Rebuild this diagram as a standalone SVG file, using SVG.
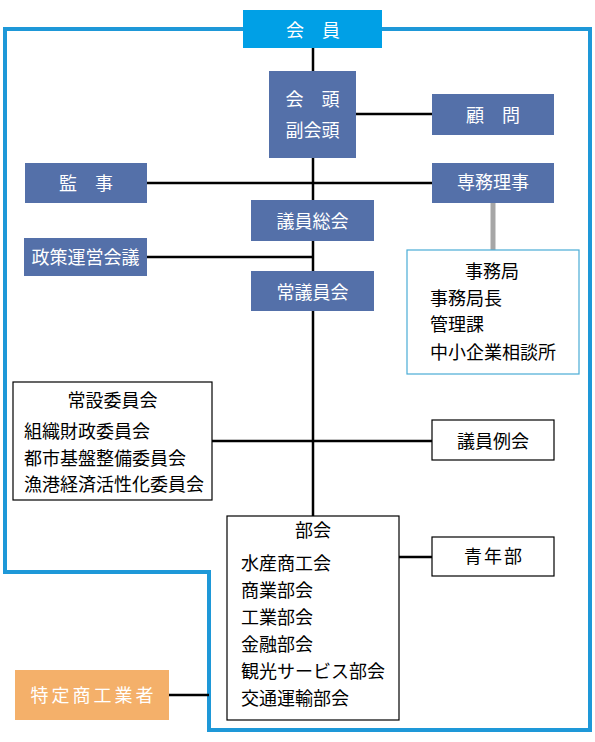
<svg xmlns="http://www.w3.org/2000/svg" width="595" height="742" viewBox="0 0 595 742">
<style>
text{font-family:"Noto Sans CJK JP","Noto Sans",sans-serif;font-size:18px}
.w{fill:#fff}
.k{fill:#000}
.c{text-anchor:middle}
.blue{fill:#5470A9}
.wb{fill:#fff;stroke:#000;stroke-width:1.2}
.ln{stroke:#000;stroke-width:2.5;fill:none}
</style>
<rect width="595" height="742" fill="#fff"/>
<g id="outline">
<polygon points="5,29 590,29 590,730 209,730 209,572 5,572" fill="none" stroke="#1E98D8" stroke-width="4"/>
</g>
<g id="connectors">
<line class="ln" x1="313" y1="48" x2="313" y2="516"/>
<line class="ln" x1="356" y1="114" x2="432" y2="114"/>
<line class="ln" x1="147" y1="183" x2="432" y2="183"/>
<line class="ln" x1="147" y1="257" x2="313" y2="257"/>
<line class="ln" x1="212" y1="441" x2="432" y2="441"/>
<line class="ln" x1="399" y1="557" x2="432" y2="557"/>
<line class="ln" x1="169" y1="695" x2="209" y2="695"/>
<line x1="493" y1="203" x2="493" y2="250" stroke="#A6A6A6" stroke-width="5"/>
</g>
<g id="kaiin">
<rect x="243" y="10" width="139" height="38" fill="#00A0E6"/>
<text class="w c" x="313" y="36.5">会　員</text>
</g>
<g id="kaito">
<rect class="blue" x="269" y="71" width="87" height="87"/>
<text class="w c" x="312.5" y="106">会　頭</text>
<text class="w c" x="312.5" y="137">副会頭</text>
</g>
<g id="komon">
<rect class="blue" x="432" y="94" width="122" height="41"/>
<text class="w c" x="493" y="121.5">顧　問</text>
</g>
<g id="kanji">
<rect class="blue" x="25" y="163" width="122" height="40"/>
<text class="w c" x="86" y="190">監　事</text>
</g>
<g id="senmu">
<rect class="blue" x="432" y="163" width="122" height="40"/>
<text class="w c" x="493" y="189">専務理事</text>
</g>
<g id="giinsokai">
<rect class="blue" x="251" y="200" width="123" height="41"/>
<text class="w c" x="312.5" y="227.5">議員総会</text>
</g>
<g id="seisaku">
<rect class="blue" x="24" y="238" width="123" height="38"/>
<text class="w c" x="85.5" y="263.5">政策運営会議</text>
</g>
<g id="jogiinkai">
<rect class="blue" x="251" y="271" width="123" height="40"/>
<text class="w c" x="312.5" y="298.5">常議員会</text>
</g>
<g id="jimukyoku">
<rect x="407" y="250" width="172" height="124" fill="#fff" stroke="#4AACD6" stroke-width="1.2"/>
<text class="k c" x="492" y="277.5">事務局</text>
<text class="k" x="430" y="304.5">事務局長</text>
<text class="k" x="430" y="331">管理課</text>
<text class="k" x="430" y="358.5">中小企業相談所</text>
</g>
<g id="josetsu">
<rect class="wb" x="13" y="382" width="199" height="118"/>
<text class="k c" x="112.5" y="406.5">常設委員会</text>
<text class="k" x="24" y="438">組織財政委員会</text>
<text class="k" x="24" y="465">都市基盤整備委員会</text>
<text class="k" x="24" y="491">漁港経済活性化委員会</text>
</g>
<g id="giinreikai">
<rect class="wb" x="432" y="420" width="122" height="40"/>
<text class="k c" x="493" y="447.5">議員例会</text>
</g>
<g id="bukai">
<rect class="wb" x="227" y="516" width="172" height="204"/>
<text class="k c" x="313" y="536.5">部会</text>
<text class="k" x="241" y="570">水産商工会</text>
<text class="k" x="241" y="597">商業部会</text>
<text class="k" x="241" y="624">工業部会</text>
<text class="k" x="241" y="651">金融部会</text>
<text class="k" x="241" y="678">観光サービス部会</text>
<text class="k" x="241" y="705">交通運輸部会</text>
</g>
<g id="seinenbu">
<rect class="wb" x="432" y="537" width="122" height="39"/>
<text class="k c" x="494" y="563" letter-spacing="2">青年部</text>
</g>
<g id="tokutei">
<rect x="15" y="670" width="154" height="50" fill="#F4B06A"/>
<text class="w c" x="93.5" y="701.5" letter-spacing="3">特定商工業者</text>
</g>
</svg>
